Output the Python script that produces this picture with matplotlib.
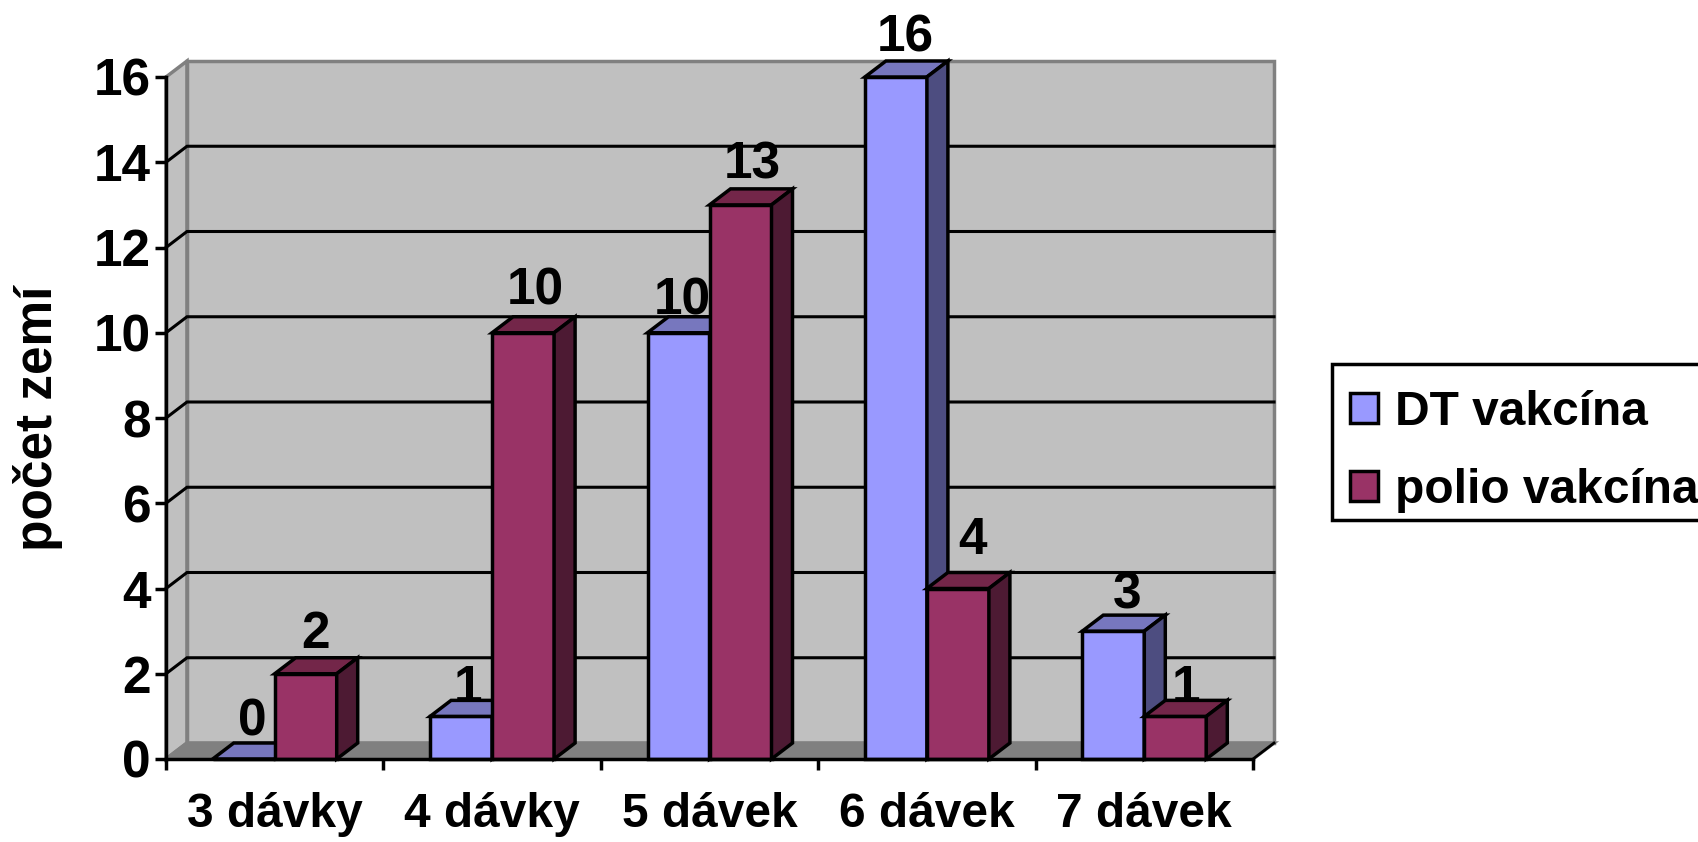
import matplotlib
matplotlib.use("Agg")
import matplotlib.pyplot as plt
from matplotlib.patches import Patch, Rectangle

categories = ["3 dávky", "4 dávky", "5 dávek", "6 dávek", "7 dávek"]
series_names = ["DT vakcína", "polio vakcína"]
dt_values = [0, 1, 10, 16, 3]
polio_values = [2, 10, 13, 4, 1]
y_ticks = [0, 2, 4, 6, 8, 10, 12, 14, 16]
y_label = "počet zemí"

# label nudges in pixels (style only)
dt_nudge = [(-2, 1), (-4, -9), (-7, -5), (-1, 2), (3, 0)]
polio_nudge = [(-1, 3), (2, 5), (1, 3), (4, 11), (0, -9)]

W, H = 1699, 842
L, R, T, B = 166, 1253, 77, 759
FONT = "Liberation Sans"
FS = 37
LW = 2.5
DX = 21 / ((R - L) / 5)
DY = 16 / ((B - T) / 16)
BW = 62 / ((R - L) / 5)
DT_C = ("#9999FF", "#7777BE", "#4D4D80")
PO_C = ("#993366", "#732649", "#4D1A33")

fig = plt.figure(figsize=(W / 100, H / 100), dpi=100, facecolor="white")
ax = fig.add_axes([L / W, 1 - B / H, (R - L) / W, (B - T) / H])
ax.set_xlim(0, 5)
ax.set_ylim(0, 16)
ax.patch.set_visible(False)

top = y_ticks[-1]
n = len(categories)
gray = "#808080"
ax.fill([0, DX, DX, 0], [0, DY, top + DY, top], fc="#C0C0C0", ec=gray, lw=LW, clip_on=False, zorder=1)
ax.fill([DX, n + DX, n + DX, DX], [DY, DY, top + DY, top + DY], fc="#C0C0C0", ec=gray, lw=LW, clip_on=False, zorder=1)
ax.fill([0, n, n + DX, DX], [0, 0, DY, DY], fc=gray, ec=gray, lw=LW, clip_on=False, zorder=1)
ax.plot([n, n + DX], [0, DY], color="black", lw=LW * 0.8, clip_on=False, zorder=1.5)
for v in y_ticks[1:-1]:
    ax.plot([0, DX, n + DX], [v, v + DY, v + DY], color="black", lw=2.2, clip_on=False, zorder=2, solid_joinstyle="miter")


def draw_bar(x0, v, colors, z):
    x1 = x0 + BW
    ax.bar(x0, v, BW, align="edge", fc=colors[0], ec="black", lw=LW, clip_on=False, zorder=z)
    ax.fill([x0, x1, x1 + DX, x0 + DX], [v, v, v + DY, v + DY], fc=colors[1], ec="black", lw=LW, clip_on=False, zorder=z)
    ax.fill([x1, x1 + DX, x1 + DX, x1], [0, DY, v + DY, v], fc=colors[2], ec="black", lw=LW, clip_on=False, zorder=z)


for i in range(n):
    c = i + 0.5
    for v, x0, colors, nudge in ((dt_values[i], c - BW, DT_C, dt_nudge[i]),
                                 (polio_values[i], c, PO_C, polio_nudge[i])):
        draw_bar(x0, v, colors, 3 + i * 0.1 + (0.05 if colors is PO_C else 0))
        ax.annotate(str(v), (x0 + BW / 2 + DX / 2, v),
                    xytext=(nudge[0] * 0.72, (23 + nudge[1]) * 0.72), textcoords="offset points",
                    ha="center", va="baseline", fontsize=FS, fontweight="bold", family=FONT,
                    color="black", annotation_clip=False, zorder=4)

for s in ("top", "right"):
    ax.spines[s].set_visible(False)
for s in ("left", "bottom"):
    ax.spines[s].set_linewidth(LW)
    ax.spines[s].set_zorder(5)
ax.set_yticks(y_ticks)
ax.set_yticklabels([str(v) for v in y_ticks], fontsize=FS, fontweight="bold", family=FONT)
ax.set_xticks(range(n + 1))
ax.set_xticklabels([])
ax.set_xticks([i + 0.5 for i in range(n)], minor=True)
ax.set_xticklabels(categories, minor=True, fontsize=34.5, fontweight="bold", family=FONT)
ax.tick_params(axis="y", which="major", length=8, width=LW, pad=3)
ax.tick_params(axis="x", which="major", length=8, width=LW)
ax.tick_params(axis="x", which="minor", length=0, pad=24)
ax.set_ylabel(y_label, fontsize=FS, fontweight="bold", family=FONT, labelpad=22)

fig.add_artist(Rectangle((1332 / W, 1 - 520 / H), 400 / W, 156 / H, transform=fig.transFigure,
                         fc="white", ec="black", lw=LW, clip_on=True))
handles = [Patch(fc=DT_C[0], ec="black", lw=LW), Patch(fc=PO_C[0], ec="black", lw=LW)]
fig.legend(handles, series_names, loc="upper left", bbox_to_anchor=(1350 / W, 1 - 390 / H),
           prop={"family": FONT, "weight": "bold", "size": 34.5}, frameon=False,
           handlelength=0.58, handleheight=0.6, handletextpad=0.35, labelspacing=0.69,
           borderpad=0, borderaxespad=0)

fig.savefig("out.png", dpi=100)
